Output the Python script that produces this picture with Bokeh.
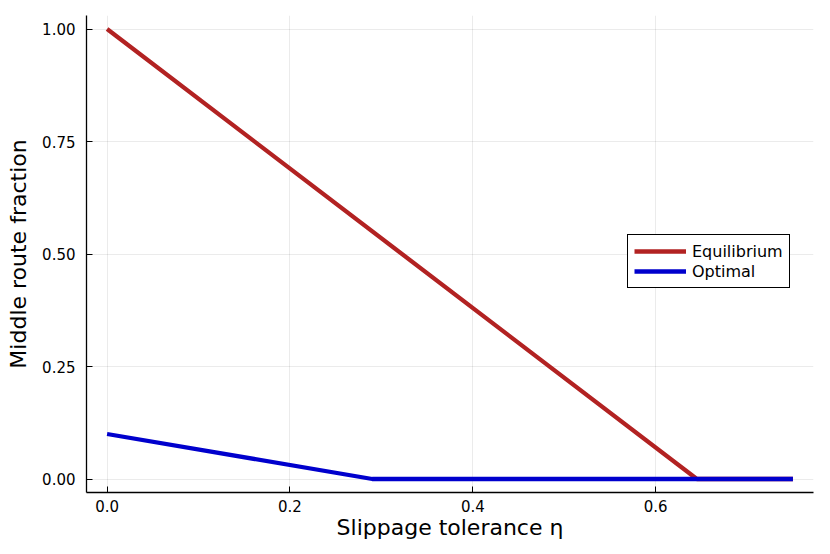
from bokeh.plotting import figure
from bokeh.models import Legend, LegendItem, FixedTicker, Range1d
from bokeh.embed import file_html
from bokeh.resources import INLINE

# data
eq_x = [0.0, 0.645, 0.75]
eq_y = [1.0, 0.0, 0.0]
opt_x = [0.0, 0.29, 0.75]
opt_y = [0.1, 0.0, 0.0]
x_ticks = [0.0, 0.2, 0.4, 0.6]
x_tick_labels = ["0.0", "0.2", "0.4", "0.6"]
y_ticks = [0.0, 0.25, 0.5, 0.75, 1.0]
y_tick_labels = ["0.00", "0.25", "0.50", "0.75", "1.00"]
series_names = ["Equilibrium", "Optimal"]

FONT = "DejaVu Sans"

p = figure(width=822, height=546, output_backend="svg", toolbar_location=None,
           x_range=Range1d(-0.0225, 0.7725), y_range=Range1d(-0.03, 1.03),
           frame_width=727, frame_height=477,
           min_border_left=86, min_border_top=15, min_border_right=9, min_border_bottom=54)
p.outline_line_color = None
p.background_fill_color = "white"

r1 = p.line(eq_x, eq_y, line_color="#B22222", line_width=4.3)
r2 = p.line(opt_x, opt_y, line_color="#0000CD", line_width=4.3)

p.xaxis.ticker = FixedTicker(ticks=x_ticks)
p.yaxis.ticker = FixedTicker(ticks=y_ticks)
p.xaxis.major_label_overrides = {t: l for t, l in zip(x_ticks, x_tick_labels)}
p.yaxis.major_label_overrides = {t: l for t, l in zip(y_ticks, y_tick_labels)}

for ax in (p.xaxis, p.yaxis):
    ax.major_tick_in = 6
    ax.major_tick_out = 0
    ax.minor_tick_in = 0
    ax.minor_tick_out = 0
    ax.axis_line_color = "black"
    ax.axis_line_width = 1.3
    ax.major_tick_line_color = "black"
    ax.major_label_text_font = FONT
    ax.major_label_text_font_size = "15px"
    ax.major_label_text_color = "black"
    ax.axis_label_text_font = FONT
    ax.axis_label_text_font_size = "22px"
    ax.axis_label_text_font_style = "normal"
    ax.axis_label_text_color = "black"

p.xaxis.axis_label = "Slippage tolerance η"
p.yaxis.axis_label = "Middle route fraction"
p.xaxis.major_label_standoff = 7
p.yaxis.major_label_standoff = 11
p.xaxis.axis_label_standoff = 0
p.yaxis.axis_label_standoff = 8

p.xgrid.grid_line_color = "black"
p.xgrid.grid_line_alpha = 0.08
p.ygrid.grid_line_color = "black"
p.ygrid.grid_line_alpha = 0.08

legend = Legend(items=[LegendItem(label=series_names[0], renderers=[r1]),
                       LegendItem(label=series_names[1], renderers=[r2])],
                location=(541, 204))
legend.border_line_color = "black"
legend.border_line_alpha = 1
legend.border_line_width = 1.5
legend.label_text_font = FONT
legend.label_text_font_size = "16px"
legend.label_text_color = "black"
legend.label_standoff = 6
legend.glyph_width = 52
legend.glyph_height = 20
legend.label_height = 20
legend.spacing = 0
legend.padding = 6
legend.margin = 0
legend.background_fill_alpha = 1
p.add_layout(legend, "center")

open("out.html", "w").write(file_html(p, INLINE))
